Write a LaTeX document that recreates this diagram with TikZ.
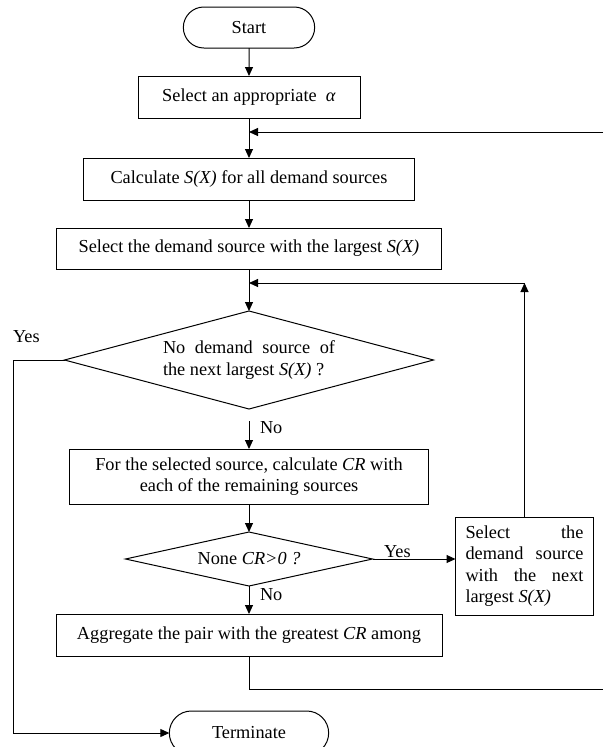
\documentclass[tikz,border=0pt]{standalone}
\usepackage{fontspec}
\setmainfont{Liberation Serif}
\usepackage{tikz}
\usetikzlibrary{arrows.meta, shapes.geometric, shapes.misc, positioning, calc}

\begin{document}
\begin{tikzpicture}[
    node distance=28pt,
    font=\fontsize{18.3}{21.5}\selectfont,
    line width=1pt,
    every node/.append style={outer sep=0pt},
    startstop/.style={rounded rectangle, minimum width=138pt, minimum height=41pt,
                      text centered, draw=black},
    process/.style={rectangle, minimum height=42pt, text centered, draw=black},
    decision/.style={diamond, inner sep=0pt, text centered, draw=black},
    lbl/.style={inner sep=0pt},
    arrow/.style={->,>={Triangle[length=9pt,width=8pt]}}
]

\useasboundingbox (0pt,0pt) rectangle (603pt,-747pt);

\node (start) [startstop] at (249pt,-27.5pt) {Start};
\node (alpha) [process, minimum width=222pt, below=of start] {Select an appropriate\ \ \textit{α}};
\node (calc) [process, minimum width=331pt, below=40pt of alpha] {Calculate \textit{S(X)} for all demand sources};
\node (largest) [process, minimum width=385pt, minimum height=41pt, below=of calc] {Select the demand source with the largest \textit{S(X)}};

\node (nomore) [decision, minimum width=369pt, minimum height=98pt, aspect=3.77,
                text width=172pt, align=justify, below=42pt of largest]
                {No demand source of\linebreak the next largest \textit{S(X)} ?};
\node (pairs) [process, minimum width=359pt, minimum height=55pt, align=center, below=40pt of nomore]
                {For the selected source, calculate \textit{CR} with\\each of the remaining sources};
\node (check) [decision, minimum width=247pt, minimum height=54pt, aspect=4.57, below=of pairs] {None \textit{CR>0 ?}};
\node (agg) [process, minimum width=386pt, below=of check] {Aggregate the pair with the greatest \textit{CR} among};
\node (term) [startstop, minimum width=166pt, minimum height=44pt, below=55pt of agg] {Terminate};

\node (nextsrc) [process, minimum width=138pt, minimum height=98pt, text width=118pt, inner xsep=10pt,
                 align=justify, right=83pt of check, yshift=-7pt]
                 {Select the\linebreak demand source\linebreak with the next\linebreak largest \textit{S(X)}};

% loop points and page edges
\coordinate (back1) at ([yshift=-14pt]alpha.south);
\coordinate (back2) at ([yshift=-14pt]largest.south);
\coordinate (out) at ([yshift=-33pt]agg.south);
\coordinate (rim) at (603pt,0pt);
\coordinate (rail) at (13pt,0pt);

\draw [arrow] (start) -- (alpha);
\draw [arrow] (alpha) -- (calc);
\draw [arrow] (rim |- back1) -- (back1);
\draw [arrow] (calc) -- (largest);
\draw [arrow] (largest) -- (nomore);
\draw [arrow] ([yshift=-12pt]nomore.south) -- (pairs) node (noA) [lbl, pos=0.25, right, xshift=11pt] {No};
\draw [arrow] (pairs) -- (check);
\draw [arrow] (check) -- (agg) node (noB) [lbl, pos=0.29, right, xshift=11pt] {No};
\draw [arrow] (check.east) -- (check.east -| nextsrc.west) node (yesB) [pos=0.3, above, inner sep=1pt] {Yes};
\draw [arrow] (nextsrc.north) -- (nextsrc.north |- back2);
\draw [arrow] (nextsrc.north |- back2) -- (back2);
\draw [arrow] (nomore.west) -- (nomore.west -| rail) |- (term.west);
\node (yesA) [lbl, anchor=south west, yshift=17pt] at (nomore.west -| rail) {Yes};
\draw (agg.south) -- (out) -- (out -| rim);

\end{tikzpicture}
\end{document}
